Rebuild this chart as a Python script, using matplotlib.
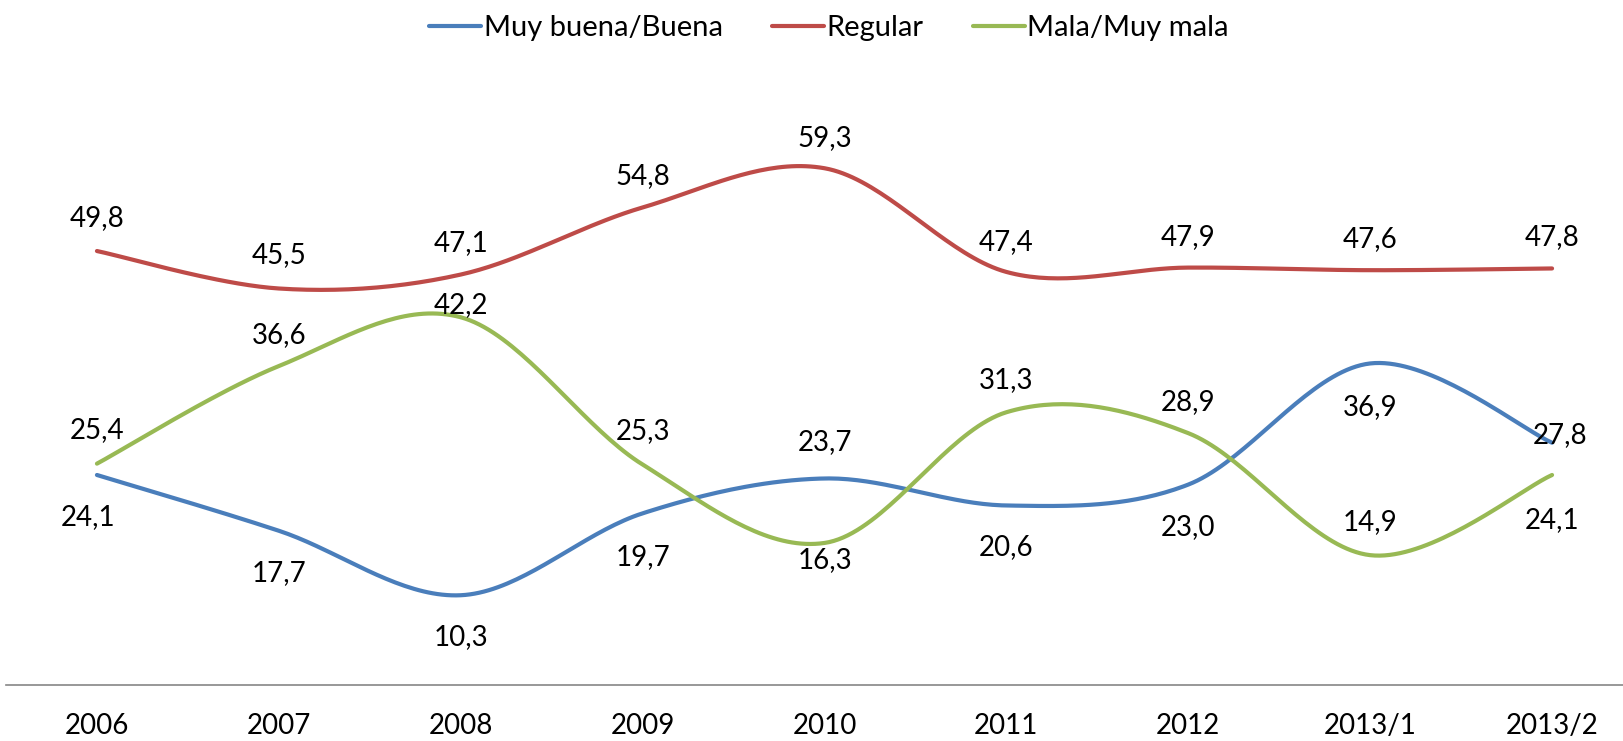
import numpy as np
import matplotlib
matplotlib.use("Agg")
import matplotlib.pyplot as plt

plt.rcParams["font.family"] = ["Lato", "DejaVu Sans"]

years = ["2006", "2007", "2008", "2009", "2010", "2011", "2012", "2013/1", "2013/2"]
buena = [24.1, 17.7, 10.3, 19.7, 23.7, 20.6, 23.0, 36.9, 27.8]
regular = [49.8, 45.5, 47.1, 54.8, 59.3, 47.4, 47.9, 47.6, 47.8]
mala = [25.4, 36.6, 42.2, 25.3, 16.3, 31.3, 28.9, 14.9, 24.1]

# label offsets in pixels (dx, dy), positive dy = up
off_buena = [(-9, -42), (0, -42), (0, -42), (0, -44), (0, 36), (0, -42), (0, -42), (0, -44), (8, 8)]
off_regular = [(0, 33), (0, 33), (0, 32), (0, 31), (0, 30), (0, 30), (0, 31), (0, 31), (0, 31)]
off_mala = [(0, 34), (0, 31), (0, 12), (0, 33), (0, -17), (0, 32), (0, 31), (0, 33), (0, -45)]

colors = {"buena": "#4A7EBB", "regular": "#BE4B48", "mala": "#98B954"}


def smooth(x, y, n=40):
    # Catmull-Rom style bezier like spreadsheet smoothed lines
    x = np.asarray(x, float)
    y = np.asarray(y, float)
    px = np.concatenate([[x[0]], x, [x[-1]]])
    py = np.concatenate([[y[0]], y, [y[-1]]])
    xs, ys = [], []
    t = np.linspace(0, 1, n)
    for i in range(len(x) - 1):
        p0 = np.array([px[i], py[i]])
        p1 = np.array([px[i + 1], py[i + 1]])
        p2 = np.array([px[i + 2], py[i + 2]])
        p3 = np.array([px[i + 3], py[i + 3]])
        c1 = p1 + (p2 - p0) / 6
        c2 = p2 - (p3 - p1) / 6
        b = ((1 - t) ** 3)[:, None] * p1 + (3 * (1 - t) ** 2 * t)[:, None] * c1 \
            + (3 * (1 - t) * t ** 2)[:, None] * c2 + (t ** 3)[:, None] * p2
        xs.extend(b[:, 0])
        ys.extend(b[:, 1])
    return np.array(xs), np.array(ys)


fig = plt.figure(figsize=(16.23, 7.41), dpi=100)
ax = fig.add_axes([6 / 1623, 56 / 741, 1617 / 1623, 610 / 741])

x = np.arange(len(years))
series = [
    ("Muy buena/Buena", buena, colors["buena"], off_buena),
    ("Regular", regular, colors["regular"], off_regular),
    ("Mala/Muy mala", mala, colors["mala"], off_mala),
]
for name, vals, col, offs in series:
    sx, sy = smooth(x, vals)
    ax.plot(sx, sy, color=col, lw=3, label=name, solid_capstyle="round")
    for xi, v, (dx, dy) in zip(x, vals, offs):
        ax.annotate(f"{v:.1f}".replace(".", ","), (xi, v), xytext=(dx, dy),
                    textcoords="offset pixels", ha="center", va="center",
                    fontsize=20, color="black")

ax.set_xlim(-0.5, 8.39)
ax.set_ylim(0, 70)
ax.set_yticks([])
ax.set_xticks(x)
ax.set_xticklabels(years, fontsize=20)
ax.tick_params(axis="x", length=0, pad=20)
for s in ["top", "left", "right"]:
    ax.spines[s].set_visible(False)
ax.spines["bottom"].set_color("#868686")
ax.spines["bottom"].set_linewidth(1.2)

fig.legend(loc="center", bbox_to_anchor=(829 / 1623, 1 - 28 / 741), ncol=3,
           frameon=False, fontsize=21, handlelength=1.78, handletextpad=0.1,
           columnspacing=1.68)

fig.savefig("out.png", dpi=100)
